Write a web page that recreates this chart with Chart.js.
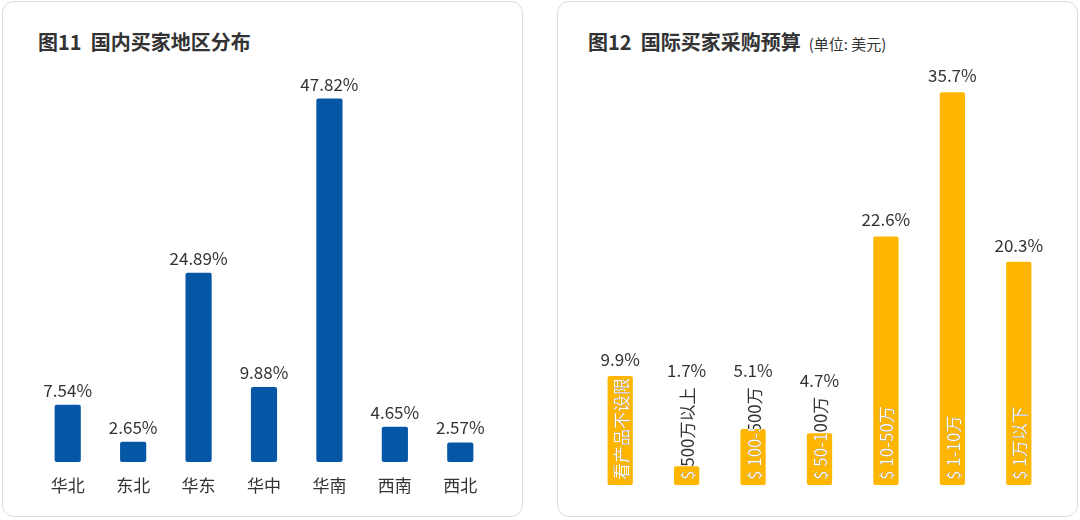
<!DOCTYPE html>
<html><head><meta charset="utf-8">
<script src="https://cdn.jsdelivr.net/npm/chart.js@4"></script>
<style>
body{margin:0;width:1080px;height:520px;background:#fff;position:relative;font-family:"Noto Sans CJK SC","Noto Sans",sans-serif;overflow:hidden}
.panel{position:absolute;top:1px;width:521px;height:516px;border:1px solid #d9d9d9;border-radius:12px;box-sizing:border-box}
.title{position:absolute;top:27px;font-size:20px;font-weight:bold;color:#333}
.title span{font-size:15px;font-weight:normal;margin-left:8px}
canvas{position:absolute;left:0;top:0}
</style></head><body>
<div class="panel" style="left:2px"></div>
<div class="panel" style="left:557px"></div>
<div class="title" style="left:38px">图11&nbsp;&nbsp;国内买家地区分布</div>
<div class="title" style="left:588px">图12&nbsp;&nbsp;国际买家采购预算<span>(单位: 美元)</span></div>
<canvas id="c1" width="1080" height="520"></canvas>
<canvas id="c2" width="1080" height="520"></canvas>
<script>
var regions = ["华北", "东北", "华东", "华中", "华南", "西南", "西北"];
var regionShare = [7.54, 2.65, 24.89, 9.88, 47.82, 4.65, 2.57];
var budgets = ["看产品不设限", "$ 500万以上", "$ 100-500万", "$ 50-100万", "$ 10-50万", "$ 1-10万", "$ 1万以下"];
var budgetShare = [9.9, 1.7, 5.1, 4.7, 22.6, 35.7, 20.3];

Chart.defaults.font.family = '"Noto Sans CJK SC", "Noto Sans", sans-serif';
Chart.defaults.animation = false;

var leftLabels = {
	id: 'leftLabels',
	afterDatasetsDraw: function (chart) {
		var ctx = chart.ctx;
		var meta = chart.getDatasetMeta(0);
		ctx.save();
		ctx.textAlign = 'center';
		ctx.fillStyle = '#333';
		meta.data.forEach(function (bar, i) {
			ctx.font = '17px "Noto Sans CJK SC"';
			ctx.textBaseline = 'bottom';
			ctx.fillText(regionShare[i].toFixed(2) + '%', bar.x, bar.y - 6);
			ctx.textBaseline = 'middle';
			ctx.fillText(regions[i], bar.x, 486);
		});
		ctx.restore();
	}
};

var rightLabels = {
	id: 'rightLabels',
	afterDatasetsDraw: function (chart) {
		var ctx = chart.ctx;
		var meta = chart.getDatasetMeta(0);
		var base = chart.scales.y.getPixelForValue(0);
		ctx.save();
		meta.data.forEach(function (bar, i) {
			ctx.font = '17px "Noto Sans CJK SC"';
			var tw = ctx.measureText(budgets[i]).width;
			var textTop = base - 5 - tw;
			var drawText = function (color) {
				ctx.save();
				ctx.translate(bar.x, base - 5);
				ctx.rotate(-Math.PI / 2);
				ctx.textAlign = 'left';
				ctx.textBaseline = 'middle';
				ctx.fillStyle = color;
				ctx.fillText(budgets[i], 0, 1);
				ctx.restore();
			};
			drawText('#333');
			ctx.save();
			ctx.beginPath();
			ctx.rect(bar.x - bar.width / 2, bar.y, bar.width, base - bar.y);
			ctx.clip();
			drawText('#fff');
			ctx.restore();
			ctx.textAlign = 'center';
			ctx.textBaseline = 'bottom';
			ctx.fillStyle = '#333';
			ctx.fillText(budgetShare[i] + '%', bar.x, Math.min(bar.y, textTop) - 8);
		});
		ctx.restore();
	}
};

function makeChart(id, labels, data, color, max, pad, barPct, plugin) {
	return new Chart(document.getElementById(id), {
		type: 'bar',
		plugins: [plugin],
		data: {
			labels: labels,
			datasets: [{ data: data, backgroundColor: color, borderRadius: 2, borderSkipped: false,
				barPercentage: barPct, categoryPercentage: 1 }]
		},
		options: {
			responsive: false,
			layout: { padding: pad },
			plugins: { legend: { display: false }, tooltip: { enabled: false } },
			scales: {
				x: { display: false },
				y: { display: false, min: 0, max: max }
			}
		}
	});
}

makeChart('c1', regions, regionShare, '#0656a6', 50, { left: 35, right: 587, top: 82, bottom: 58 }, 0.4, leftLabels);
makeChart('c2', budgets, budgetShare, '#ffb600', 40, { left: 587, right: 28, top: 45, bottom: 35 }, 0.38, rightLabels);
</script>
</body></html>
